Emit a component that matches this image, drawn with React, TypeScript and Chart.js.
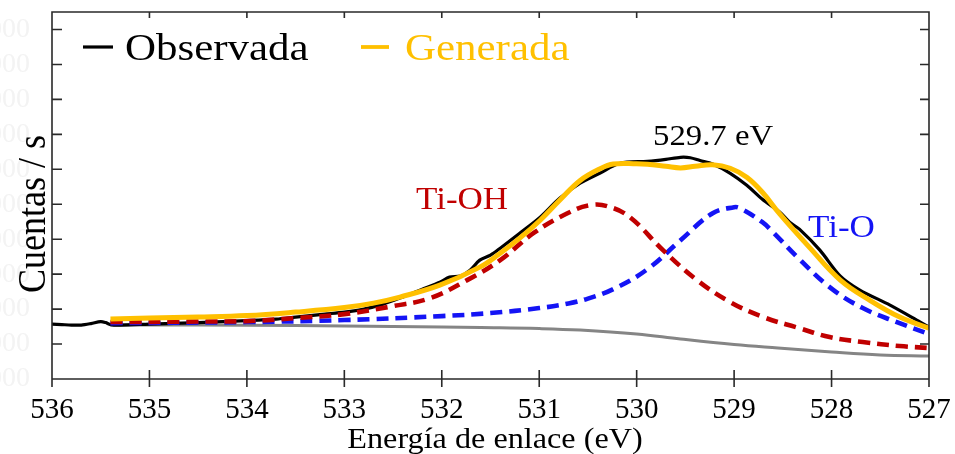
import React, { useEffect, useRef } from "react";
import { Chart, registerables } from "chart.js";

Chart.register(...registerables);

// Binding energy (eV) and counts per second for each curve
const observedEnergy = [536.0, 535.9, 535.8, 535.7, 535.6, 535.5, 535.45, 535.4, 535.3, 535.0, 534.5, 534.0, 533.7, 533.5, 533.2, 533.0, 532.8, 532.6, 532.43, 532.2, 532.02, 531.92, 531.81, 531.71, 531.61, 531.5, 531.4, 531.2, 530.99, 530.79, 530.58, 530.38, 530.17, 529.89, 529.7, 529.55, 529.45, 529.35, 529.22, 529.04, 528.87, 528.71, 528.53, 528.43, 528.33, 528.12, 527.91, 527.71, 527.4, 527.09, 527.0];
const observedCounts = [2571, 2557, 2543, 2543, 2586, 2643, 2614, 2557, 2543, 2571, 2614, 2671, 2714, 2771, 2857, 2914, 3000, 3143, 3314, 3571, 3771, 3914, 3943, 4114, 4400, 4543, 4743, 5171, 5629, 6171, 6600, 6886, 7171, 7229, 7286, 7343, 7330, 7250, 7150, 6886, 6543, 6143, 5771, 5486, 5286, 4686, 3943, 3543, 3114, 2629, 2486];

const fitEnergy = [535.4, 535.0, 534.5, 534.0, 533.5, 533.0, 532.7, 532.43, 532.02, 531.61, 531.4, 531.2, 530.99, 530.79, 530.58, 530.38, 530.24, 530.0, 529.89, 529.7, 529.55, 529.4, 529.22, 529.04, 528.87, 528.71, 528.53, 528.22, 527.91, 527.61, 527.3, 527.0];
const fitCounts = [2714, 2743, 2771, 2814, 2914, 3043, 3171, 3343, 3686, 4200, 4600, 5029, 5543, 6114, 6680, 7010, 7150, 7157, 7143, 7086, 7040, 7086, 7130, 7029, 6771, 6343, 5714, 4743, 3829, 3257, 2771, 2457];

const tiohEnergy = [535.4, 534.5, 534.0, 533.5, 533.0, 532.5, 532.12, 531.74, 531.4, 531.06, 530.71, 530.48, 530.3, 530.07, 529.73, 529.38, 529.04, 528.7, 528.35, 528.02, 527.68, 527.3, 527.0];
const tiohCounts = [2629, 2643, 2657, 2743, 2857, 3086, 3314, 3829, 4400, 5171, 5743, 5971, 5943, 5629, 4686, 3829, 3200, 2771, 2471, 2200, 2057, 1943, 1886];

const tioEnergy = [535.4, 534.0, 533.0, 532.0, 531.5, 531.0, 530.7, 530.5, 530.24, 529.89, 529.55, 529.22, 529.0, 528.94, 528.71, 528.6, 528.35, 528.02, 527.68, 527.33, 527.0];
const tioCounts = [2600, 2629, 2686, 2800, 2886, 3029, 3160, 3300, 3570, 4140, 4971, 5743, 5914, 5886, 5486, 5200, 4486, 3629, 3029, 2629, 2286];

const backgroundEnergy = [535.4, 534.5, 533.5, 533.0, 532.5, 532.0, 531.6, 531.0, 530.58, 530.0, 529.55, 529.0, 528.55, 528.0, 527.5, 527.0];
const backgroundCounts = [2543, 2543, 2529, 2514, 2500, 2486, 2471, 2443, 2400, 2286, 2143, 1986, 1886, 1771, 1686, 1657];

const xTicks = [536, 535, 534, 533, 532, 531, 530, 529, 528, 527];
const yTicks = [1000, 2000, 3000, 4000, 5000, 6000, 7000, 8000, 9000, 10000, 11000];

const SERIF = "'Liberation Serif', 'Times New Roman', serif";
const SX = 1.13;
const YELLOW = "#FFC000";
const RED = "#C00000";
const BLUE = "#1414F5";

const pts = (e: number[], c: number[]) => e.map((x, i) => ({ x, y: c[i] }));

function stretchText(ctx: CanvasRenderingContext2D, text: string, x: number, y: number, size: number, color: string, align: CanvasTextAlign = "left") {
  ctx.save();
  ctx.translate(x, y);
  ctx.scale(SX, 1);
  ctx.font = `${size}px ${SERIF}`;
  ctx.fillStyle = color;
  ctx.textAlign = align;
  ctx.textBaseline = "alphabetic";
  ctx.fillText(text, 0, 0);
  ctx.restore();
}

const framePlugin = {
  id: "frame",
  afterDraw(chart: any) {
    const { ctx, chartArea, scales } = chart;
    const { left, right, top, bottom } = chartArea;
    const xs = scales.x;
    const ys = scales.y;
    ctx.save();
    ctx.strokeStyle = "#2a2a2a";
    ctx.lineWidth = 1.6;
    ctx.beginPath();
    ctx.moveTo(left, bottom + 8);
    ctx.lineTo(left, top);
    ctx.lineTo(right, top);
    ctx.lineTo(right, bottom + 8);
    ctx.moveTo(left, bottom);
    ctx.lineTo(right, bottom);
    xTicks.forEach((v) => {
      const px = xs.getPixelForValue(v);
      ctx.moveTo(px, bottom - 9);
      ctx.lineTo(px, bottom + 8);
      ctx.moveTo(px, top);
      ctx.lineTo(px, top + 6);
    });
    yTicks.forEach((v) => {
      const py = ys.getPixelForValue(v);
      ctx.moveTo(left, py);
      ctx.lineTo(left + 10, py);
      ctx.moveTo(right - 9, py);
      ctx.lineTo(right, py);
    });
    ctx.stroke();

    // legend
    ctx.lineWidth = 3.2;
    ctx.strokeStyle = "#000";
    ctx.beginPath();
    ctx.moveTo(83, 47);
    ctx.lineTo(113, 47);
    ctx.stroke();
    stretchText(ctx, "Observada", 125, 60, 38, "#000");
    ctx.strokeStyle = YELLOW;
    ctx.lineWidth = 3.8;
    ctx.beginPath();
    ctx.moveTo(361, 47);
    ctx.lineTo(389, 47);
    ctx.stroke();
    stretchText(ctx, "Generada", 405, 60, 38, YELLOW);

    // annotations
    stretchText(ctx, "529.7 eV", 653, 145, 29, "#000");
    stretchText(ctx, "Ti-OH", 416, 209, 31, RED);
    stretchText(ctx, "Ti-O", 808, 237, 31, BLUE);

    // axis titles
    stretchText(ctx, "Energía de enlace (eV)", 495, 448, 28.5, "#000", "center");
    ctx.save();
    ctx.translate(45, 214);
    ctx.scale(SX, 1);
    ctx.rotate(-Math.PI / 2);
    ctx.font = `36px ${SERIF}`;
    ctx.fillStyle = "#000";
    ctx.textAlign = "center";
    ctx.textBaseline = "alphabetic";
    ctx.fillText("Cuentas / s", 0, 0);
    ctx.restore();
    ctx.restore();
  },
};

export default function App() {
  const ref = useRef<HTMLCanvasElement>(null);
  useEffect(() => {
    if (!ref.current) return;
    const chart = new Chart(ref.current, {
      type: "line",
      data: {
        datasets: [
          {
            label: "Generada",
            data: pts(fitEnergy, fitCounts),
            borderColor: YELLOW,
            borderWidth: 5,
            tension: 0.4,
            pointRadius: 0,
            fill: false,
          },
          {
            label: "Ti-OH",
            data: pts(tiohEnergy, tiohCounts),
            borderColor: RED,
            borderWidth: 4.6,
            borderDash: [12, 7],
            tension: 0.4,
            pointRadius: 0,
            fill: false,
          },
          {
            label: "Ti-O",
            data: pts(tioEnergy, tioCounts),
            borderColor: BLUE,
            borderWidth: 4.6,
            borderDash: [12, 7],
            tension: 0.4,
            pointRadius: 0,
            fill: false,
          },
          {
            label: "Observada",
            data: pts(observedEnergy, observedCounts),
            borderColor: "#000",
            borderWidth: 3.2,
            tension: 0.3,
            pointRadius: 0,
            fill: false,
          },
          {
            label: "Fondo",
            data: pts(backgroundEnergy, backgroundCounts),
            borderColor: "#858585",
            borderWidth: 3,
            tension: 0.4,
            pointRadius: 0,
            fill: false,
          },
        ],
      },
      options: {
        responsive: false,
        animation: false,
        events: [],
        layout: { padding: { top: 12, right: 26, left: 0, bottom: 0 } },
        plugins: { legend: { display: false }, tooltip: { enabled: false } },
        scales: {
          x: {
            type: "linear",
            reverse: true,
            min: 527,
            max: 536,
            afterBuildTicks: (s: any) => {
              s.ticks = xTicks.map((value) => ({ value }));
            },
            afterFit: (s: any) => {
              s.height = 75;
              s.paddingLeft = 0;
              s.paddingRight = 0;
            },
            grid: { display: false, drawTicks: false },
            border: { display: false },
            ticks: {
              autoSkip: false,
              maxRotation: 0,
              padding: 14,
              color: "#000",
              font: { family: SERIF, size: 29 },
              callback: (v: any) => String(v),
            },
          },
          y: {
            type: "linear",
            min: 1000,
            max: 11500,
            afterBuildTicks: (s: any) => {
              s.ticks = yTicks.map((value) => ({ value }));
            },
            afterFit: (s: any) => {
              s.width = 52;
              s.paddingTop = 0;
              s.paddingBottom = 0;
            },
            grid: { display: false, drawTicks: false },
            border: { display: false },
            ticks: {
              padding: 22,
              color: "#f3f3f3",
              font: { family: SERIF, size: 28 },
              callback: (v: any) => String(v),
            },
          },
        },
      },
      plugins: [framePlugin],
    } as any);
    return () => chart.destroy();
  }, []);
  return (
    <div style={{ position: "fixed", left: 0, top: 0, width: 955, height: 454, background: "#fff" }}>
      <canvas ref={ref} width={955} height={454} style={{ display: "block" }} />
    </div>
  );
}
